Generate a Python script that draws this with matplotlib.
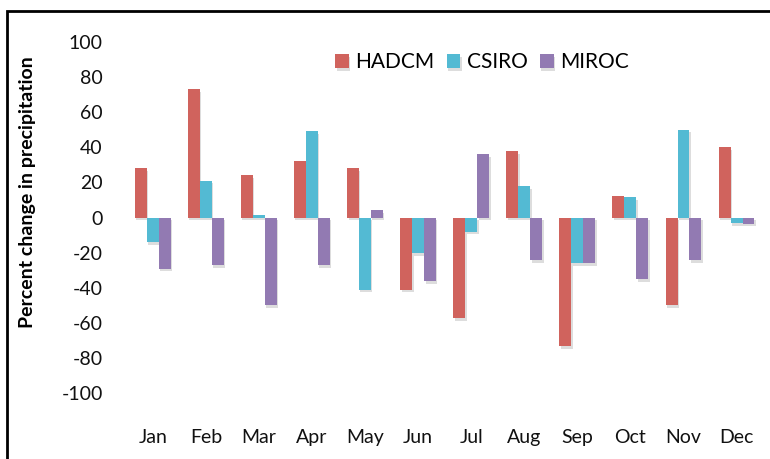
import matplotlib
matplotlib.use("Agg")
import matplotlib.pyplot as plt
import matplotlib.patheffects as pe
from matplotlib.patches import Rectangle
import numpy as np

months = ["Jan", "Feb", "Mar", "Apr", "May", "Jun", "Jul", "Aug", "Sep", "Oct", "Nov", "Dec"]
hadcm = [28, 73, 24, 32, 28, -41, -57, 38, -73, 12, -50, 40]
csiro = [-14, 21, 1.5, 49, -41, -20, -8, 18, -26, 11.5, 50, -3]
miroc = [-29, -27, -50, -27, 4.3, -36, 36, -24, -26, -35, -24, -3.5]
series_names = ["HADCM", "CSIRO", "MIROC"]
colors = ["#D0635D", "#53BAD3", "#927AB2"]

plt.rcParams['font.family'] = ['Lato', 'DejaVu Sans']
plt.rcParams['axes.unicode_minus'] = False

fig = plt.figure(figsize=(7.7, 4.59), dpi=100)
ax = fig.add_axes([0.164, 0.143, 0.827, 0.766])

x = np.arange(len(months))
w = 0.225
shadow = [pe.SimplePatchShadow(offset=(1.0, -2.0), shadow_rgbFace='#909090', alpha=0.3), pe.Normal()]
for i, (vals, name, c) in enumerate(zip([hadcm, csiro, miroc], series_names, colors)):
    bars = ax.bar(x + (i - 1) * w, vals, width=w, color=c, label=name, linewidth=0)
    for b in bars:
        b.set_path_effects(shadow)

ax.set_xlim(-0.5, len(months) - 0.5)
ax.set_ylim(-100, 100)
ax.set_yticks(np.arange(-100, 101, 20))
ax.set_xticks(x)
ax.set_xticklabels(months)
for s in ax.spines.values():
    s.set_visible(False)
ax.tick_params(axis='y', length=0, pad=17, labelsize=14, labelcolor='#111111')
ax.tick_params(axis='x', length=0, pad=26, labelsize=14, labelcolor='#111111')

fig.text(27.5 / 770, 1 - 192 / 459, "Percent change in precipitation", rotation=90,
         ha='center', va='center', fontsize=14, fontweight='bold')

leg = ax.legend(loc='center', bbox_to_anchor=(482 / 770, 1 - 62.5 / 459),
                bbox_transform=fig.transFigure, ncol=3, frameon=False, fontsize=15,
                handlelength=0.65, handleheight=0.65, handletextpad=0.3, columnspacing=0.6)

fig.patches.append(Rectangle((7 / 770, -0.1), 1.2, 1.1 - 10.7 / 459, transform=fig.transFigure,
                             fill=False, edgecolor='black', linewidth=2, figure=fig))

fig.savefig("out.png", dpi=100)
